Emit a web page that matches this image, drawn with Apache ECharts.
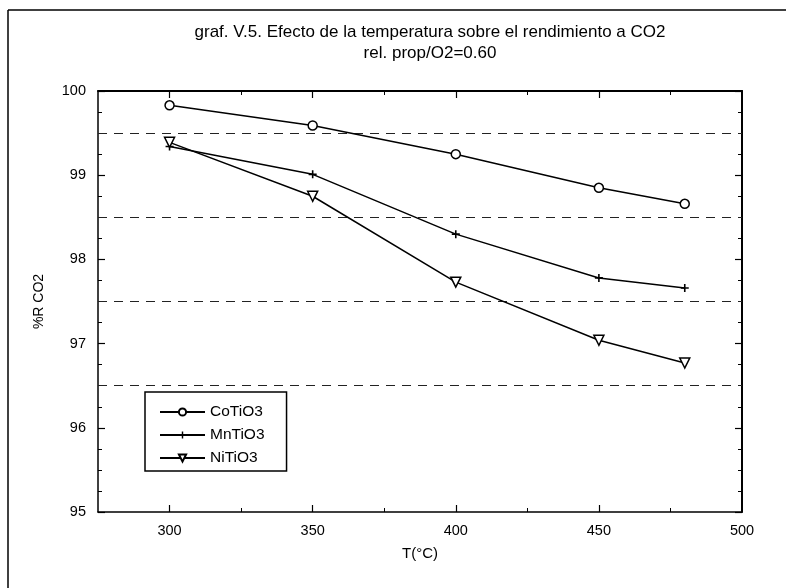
<!DOCTYPE html>
<html>
<head>
<meta charset="utf-8">
<script src="https://cdn.jsdelivr.net/npm/echarts@6/dist/echarts.min.js"></script>
<style>
html,body{margin:0;padding:0;background:#fff;}
#c{width:786px;height:588px;}
</style>
</head>
<body>
<div id="c"></div>
<script>
var temps = [300, 350, 400, 450, 480];
var coTiO3 = [99.83, 99.59, 99.25, 98.85, 98.66];
var mnTiO3 = [99.34, 99.01, 98.30, 97.78, 97.66];
var niTiO3 = [99.39, 98.75, 97.73, 97.04, 96.77];
var seriesNames = ['CoTiO3', 'MnTiO3', 'NiTiO3'];
var xMajorTicks = [300, 350, 400, 450];
var xMinorTicks = [325, 375, 425, 475];
var xTickLabels = [300, 350, 400, 450, 500];
var gridValues = [99.5, 98.5, 97.5, 96.5];
var titleText = 'graf. V.5. Efecto de la temperatura sobre el rendimiento a CO2';
var subTitleText = 'rel. prop/O2=0.60';

var FONT = '"Liberation Sans", Arial, sans-serif';
var plusPath = 'path://M4,0H6V4H10V6H6V10H4V6H0V4H4Z';

function pairs(ys) { return temps.map(function (t, i) { return [t, ys[i]]; }); }

var chart = echarts.init(document.getElementById('c'), null, {renderer: 'canvas'});
var lineStyle = {color: '#000', width: 1.5};
var common = {
  type: 'line', xAxisIndex: 0, yAxisIndex: 0,
  lineStyle: lineStyle, itemStyle: {color: '#fff', borderColor: '#000', borderWidth: 1.5},
  animation: false, z: 5
};
chart.setOption({
  backgroundColor: '#fff',
  textStyle: {fontFamily: FONT, color: '#000'},
  title: {
    text: titleText + '\n' + subTitleText,
    left: 425, top: 17, textAlign: 'center',
    textStyle: {fontFamily: FONT, fontSize: 17, fontWeight: 'normal', color: '#000', lineHeight: 21}
  },
  grid: {left: 98, right: 44, top: 91, bottom: 76},
  legend: {
    left: 145, top: 392, orient: 'vertical',
    data: seriesNames,
    itemWidth: 45, itemHeight: 9, itemGap: 7,
    padding: [12, 22, 5, 14],
    borderColor: '#000', borderWidth: 1.5,
    textStyle: {fontFamily: FONT, fontSize: 15.5, color: '#000'}
  },
  xAxis: [
    {
      type: 'value', min: 275, max: 500, position: 'bottom',
      name: 'T(°C)', nameLocation: 'middle', nameGap: 34,
      nameTextStyle: {fontFamily: FONT, fontSize: 15, color: '#000'},
      axisLine: {onZero: false, lineStyle: {color: '#000', width: 1.5}},
      axisTick: {inside: true, length: 7, customValues: xMajorTicks, lineStyle: {color: '#000', width: 1.2}},
      axisLabel: {customValues: xTickLabels, margin: 11, fontFamily: FONT, fontSize: 14.5, color: '#000'},
      splitLine: {show: false}
    },
    {
      type: 'value', min: 275, max: 500, position: 'bottom',
      axisLine: {show: false},
      axisTick: {inside: true, length: 4, customValues: xMinorTicks, lineStyle: {color: '#000', width: 1}},
      axisLabel: {show: false}, splitLine: {show: false}
    },
    {
      type: 'value', min: 275, max: 500, position: 'top',
      axisLine: {onZero: false, lineStyle: {color: '#000', width: 2}},
      axisTick: {inside: true, length: 7, customValues: xMajorTicks, lineStyle: {color: '#000', width: 1.2}},
      axisLabel: {show: false}, splitLine: {show: false}
    },
    {
      type: 'value', min: 275, max: 500, position: 'top',
      axisLine: {show: false},
      axisTick: {inside: true, length: 4, customValues: xMinorTicks, lineStyle: {color: '#000', width: 1}},
      axisLabel: {show: false}, splitLine: {show: false}
    }
  ],
  yAxis: [
    {
      type: 'value', min: 95, max: 100, interval: 1, position: 'left',
      name: '%R CO2', nameLocation: 'middle', nameGap: 52, nameRotate: 90,
      nameTextStyle: {fontFamily: FONT, fontSize: 14, color: '#000'},
      axisLine: {onZero: false, lineStyle: {color: '#000', width: 1.5}},
      axisTick: {inside: true, length: 7, lineStyle: {color: '#000', width: 1.2}},
      minorTick: {show: true, splitNumber: 4, length: 4, lineStyle: {color: '#000', width: 1}},
      axisLabel: {margin: 12, fontFamily: FONT, fontSize: 14.5, color: '#000'},
      splitLine: {show: false}
    },
    {
      type: 'value', min: 95, max: 100, interval: 1, position: 'right',
      axisLine: {onZero: false, lineStyle: {color: '#000', width: 2}},
      axisTick: {inside: true, length: 7, lineStyle: {color: '#000', width: 1.2}},
      minorTick: {show: true, splitNumber: 4, length: 4, lineStyle: {color: '#000', width: 1}},
      axisLabel: {show: false},
      splitLine: {show: false}
    }
  ],
  graphic: [
    {type: 'line', shape: {x1: 8, y1: 10, x2: 8, y2: 588}, style: {stroke: '#000', lineWidth: 1.5}, silent: true},
    {type: 'line', shape: {x1: 8, y1: 10, x2: 786, y2: 10}, style: {stroke: '#000', lineWidth: 1.5}, silent: true}
  ],
  series: [
    Object.assign({}, common, {
      name: seriesNames[0], data: pairs(coTiO3), symbol: 'circle', symbolSize: 9,
      markLine: {
        silent: true, symbol: 'none', label: {show: false}, animation: false,
        lineStyle: {color: '#222', type: [9, 7], width: 1},
        data: gridValues.map(function (v) { return {yAxis: v}; })
      }
    }),
    Object.assign({}, common, {
      name: seriesNames[1], data: pairs(mnTiO3), symbol: plusPath, symbolSize: 8,
      itemStyle: {color: '#000', borderWidth: 0}
    }),
    Object.assign({}, common, {
      name: seriesNames[2], data: pairs(niTiO3), symbol: 'triangle', symbolRotate: 180, symbolSize: 10
    })
  ]
});
</script>
</body>
</html>
